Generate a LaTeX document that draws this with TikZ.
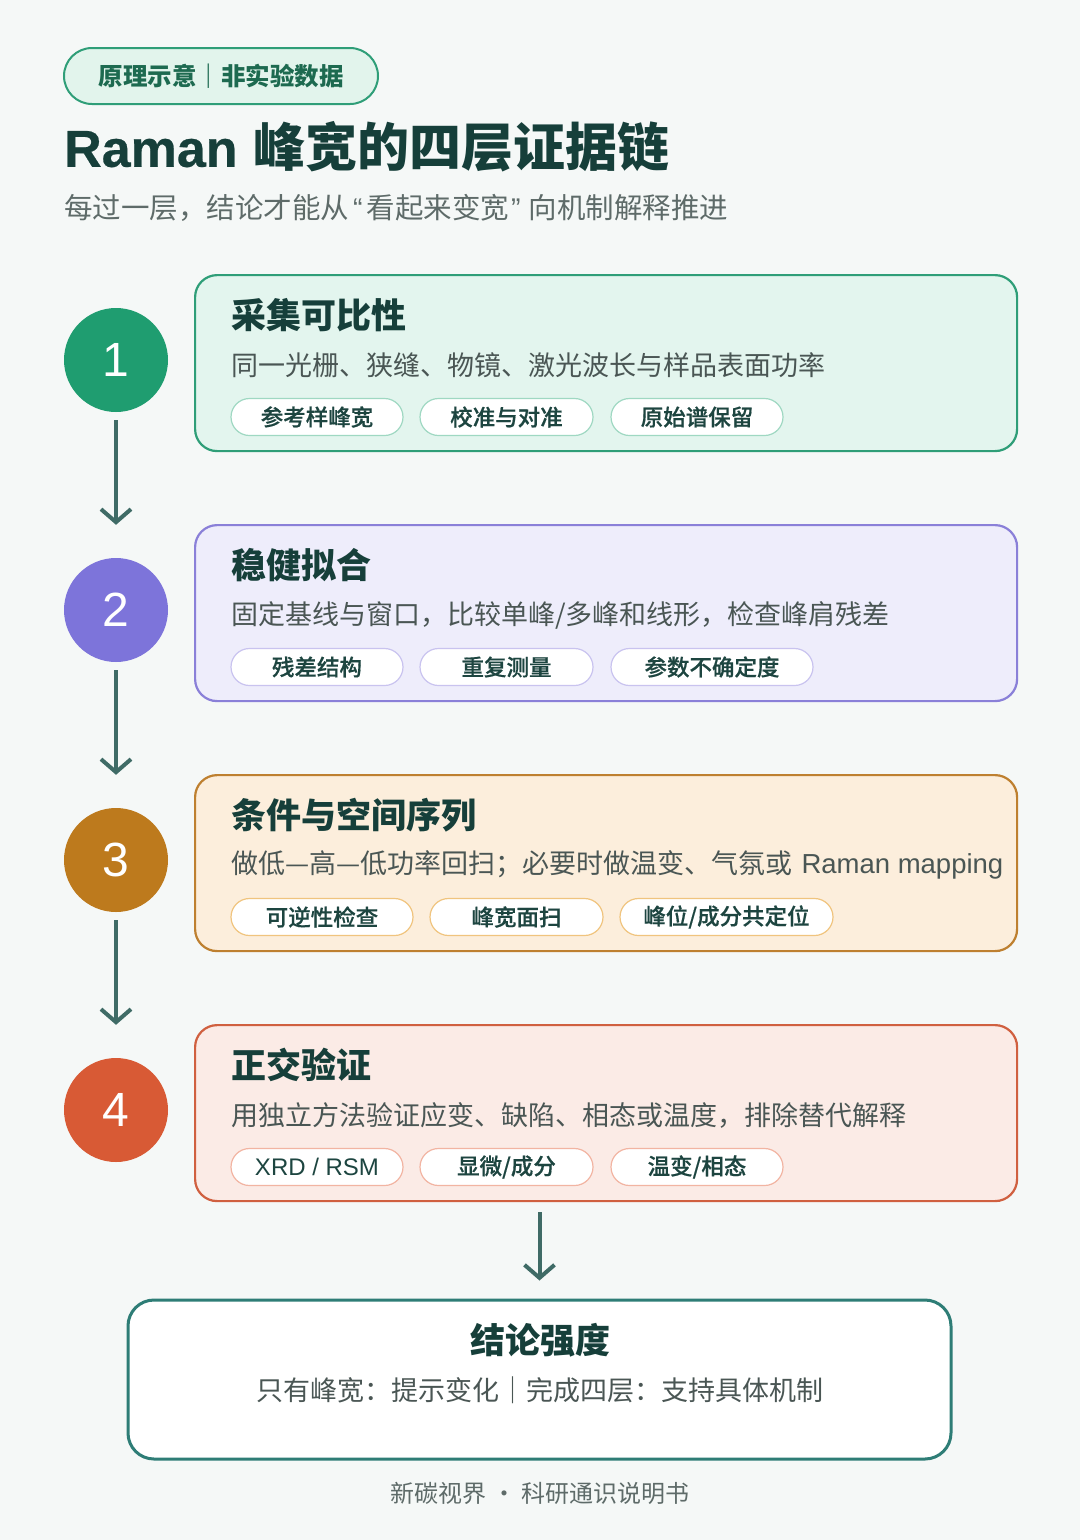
\documentclass[tikz,border=0pt]{standalone}
\usepackage{fontspec}
\setmainfont{Noto Sans CJK SC}
\newfontfamily\cjksemi[FakeBold=0.5]{Noto Sans CJK SC Medium}
\newfontfamily\lat{Liberation Sans}
\newfontfamily\latmed[FakeBold=0.5]{Liberation Sans}
\usetikzlibrary{arrows.meta}
\definecolor{bg}{HTML}{F5F8F7}
\definecolor{titlec}{HTML}{163F3A}
\definecolor{subc}{HTML}{5E6B69}
\definecolor{descc}{HTML}{4A5654}
\definecolor{chipc}{HTML}{1D4540}
\definecolor{badgefill}{HTML}{E2F4EC}
\definecolor{badgedraw}{HTML}{2F9E78}
\definecolor{badgetext}{HTML}{1D6A50}
\definecolor{flowc}{HTML}{3F6B66}
\definecolor{finalc}{HTML}{2E7D76}
\definecolor{aFill}{HTML}{E3F5EE}\definecolor{aDraw}{HTML}{2F9E78}\definecolor{aChip}{HTML}{9FD8C2}\definecolor{aCirc}{HTML}{1F9D70}
\definecolor{bFill}{HTML}{EEEDFB}\definecolor{bDraw}{HTML}{8A80D8}\definecolor{bChip}{HTML}{C9C3EF}\definecolor{bCirc}{HTML}{7D74DA}
\definecolor{cFill}{HTML}{FCEEDC}\definecolor{cDraw}{HTML}{BE8030}\definecolor{cChip}{HTML}{F0C47E}\definecolor{cCirc}{HTML}{BD7A1D}
\definecolor{dFill}{HTML}{FBEBE6}\definecolor{dDraw}{HTML}{D06040}\definecolor{dChip}{HTML}{F2B4A2}\definecolor{dCirc}{HTML}{D85A35}
\newcommand\fsz[1]{\fontsize{#1}{#1}\selectfont}
\newcommand\myopenq{\hspace{4pt}{\lat “}\hspace{4pt}}
\newcommand\myclosq{\hspace{2pt}{\lat ”}\hspace{8pt}}
\begin{document}
\begin{tikzpicture}[x=1pt,y=-1pt,
  card/.style={draw, line width=2.2pt, rounded corners=22pt, minimum width=822, minimum height=176, anchor=north west, inner sep=0},
  cardtitle/.style={anchor=west, inner sep=0, text=titlec, font=\fsz{35}\bfseries},
  carddesc/.style={anchor=west, inner sep=0, text=descc, font=\fsz{27}},
  chip/.style={draw, fill=white, line width=1.2pt, rounded corners=18.5pt, minimum height=37, inner sep=0, text=chipc, font=\fsz{22.5}\cjksemi},
  numcirc/.style={circle, minimum size=104, inner sep=0, text=white, font=\fsz{48}\lat},
  flowarrow/.style={draw=flowc, line width=4pt, -{Straight Barb[length=13pt,width=30pt]}}
]
\useasboundingbox[fill=bg] (0,0) rectangle (1080,1540);

% header
\node[draw=badgedraw, fill=badgefill, line width=2pt, rounded corners=28pt, minimum width=314, minimum height=56, inner sep=0, text=badgetext, font=\fsz{24.5}\bfseries] (badge) at (221,76) {原理示意｜非实验数据};
\node[anchor=west, inner sep=0, text=titlec, font=\fsz{52}\bfseries] (title) at (64,147) {{\latmed Raman}\hspace{4pt} 峰宽的四层证据链};
\node[anchor=west, inner sep=0, text=subc, font=\fsz{28.5}] (subtitle) at (64,208) {每过一层，结论才能从\myopenq 看起来变宽\myclosq 向机制解释推进};

% layer 1
\node[card, fill=aFill, draw=aDraw] (card1) at (194,274) {};
\node[cardtitle] (t1) at (231,315) {采集可比性};
\node[carddesc] (d1) at (231,365) {同一光栅、狭缝、物镜、激光波长与样品表面功率};
\node[chip, draw=aChip, minimum width=172] (c11) at (317,417) {参考样峰宽};
\node[chip, draw=aChip, minimum width=173] (c12) at (506.5,417) {校准与对准};
\node[chip, draw=aChip, minimum width=172] (c13) at (697,417) {原始谱保留};
\node[numcirc, fill=aCirc] (n1) at (116,360) {1};

% layer 2
\node[card, fill=bFill, draw=bDraw] (card2) at (194,524) {};
\node[cardtitle] (t2) at (231,565) {稳健拟合};
\node[carddesc] (d2) at (231,615) {固定基线与窗口，比较单峰/多峰和线形，检查峰肩残差};
\node[chip, draw=bChip, minimum width=172] (c21) at (317,667) {残差结构};
\node[chip, draw=bChip, minimum width=173] (c22) at (506.5,667) {重复测量};
\node[chip, draw=bChip, minimum width=202] (c23) at (712,667) {参数不确定度};
\node[numcirc, fill=bCirc] (n2) at (116,610) {2};

% layer 3
\node[card, fill=cFill, draw=cDraw] (card3) at (194,774) {};
\node[cardtitle] (t3) at (231,815) {条件与空间序列};
\node[carddesc] (d3) at (231,865) {做低—高—低功率回扫；必要时做温变、气氛或\hspace{3pt} {\lat\fsz{27.5}Raman mapping}};
\node[chip, draw=cChip, minimum width=182] (c31) at (322,917) {可逆性检查};
\node[chip, draw=cChip, minimum width=173] (c32) at (516.5,917) {峰宽面扫};
\node[chip, draw=cChip, minimum width=213] (c33) at (726.5,917) {峰位/成分共定位};
\node[numcirc, fill=cCirc] (n3) at (116,860) {3};

% layer 4
\node[card, fill=dFill, draw=dDraw] (card4) at (194,1024) {};
\node[cardtitle] (t4) at (231,1065) {正交验证};
\node[carddesc] (d4) at (231,1115) {用独立方法验证应变、缺陷、相态或温度，排除替代解释};
\node[chip, draw=dChip, minimum width=172, font=\fsz{24}\lat] (c41) at (317,1167) {XRD / RSM};
\node[chip, draw=dChip, minimum width=173] (c42) at (506.5,1167) {显微/成分};
\node[chip, draw=dChip, minimum width=172] (c43) at (697,1167) {温变/相态};
\node[numcirc, fill=dCirc] (n4) at (116,1110) {4};

% connectors
\draw[flowarrow] ([yshift=-8pt]n1.south) -- ([yshift=33pt]n2.north);
\draw[flowarrow] ([yshift=-8pt]n2.south) -- ([yshift=33pt]n3.north);
\draw[flowarrow] ([yshift=-8pt]n3.south) -- ([yshift=33pt]n4.north);

% final
\node[draw=finalc, fill=white, line width=3pt, rounded corners=26pt, minimum width=823, minimum height=159, inner sep=0] (final) at (539.5,1379.5) {};
\draw[flowarrow] ([yshift=-10pt]card4.south -| final.north) -- ([yshift=18pt]final.north);
\node[inner sep=0, text=titlec, font=\fsz{35}\bfseries] (ft) at (540,1340) {结论强度};
\node[inner sep=0, text=descc, font=\fsz{27}] (fd) at (540,1390) {只有峰宽：提示变化｜完成四层：支持具体机制};

\node[inner sep=0, text=subc, font=\fsz{24}] (footer) at (540,1493) {新碳视界 · 科研通识说明书};
\end{tikzpicture}
\end{document}
